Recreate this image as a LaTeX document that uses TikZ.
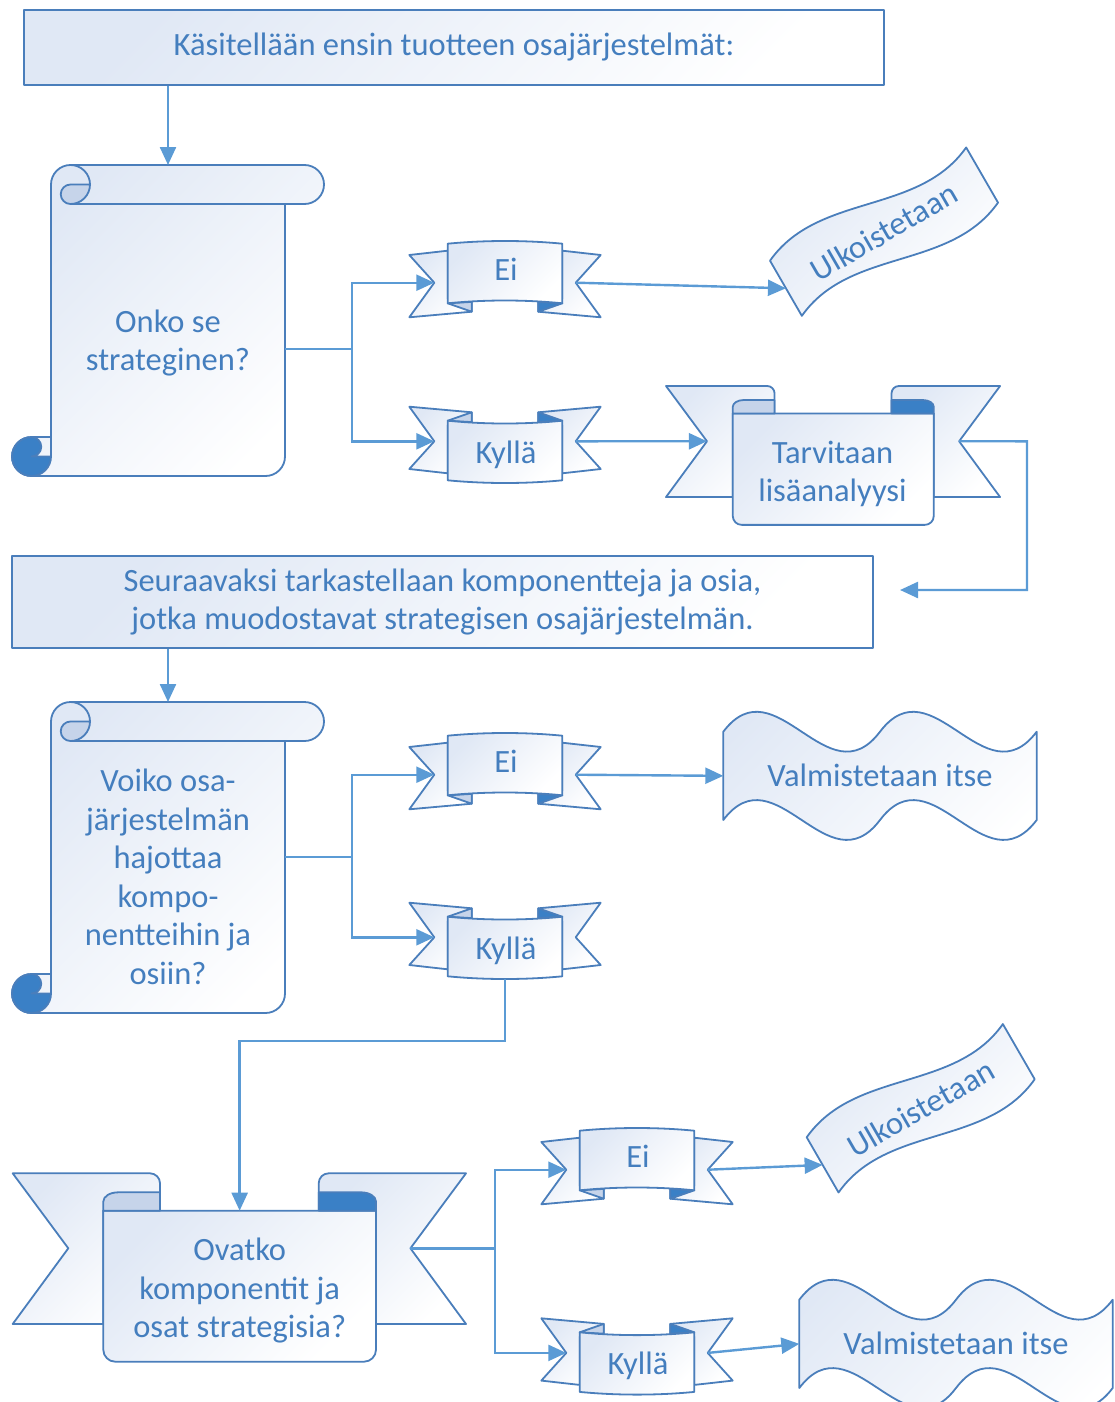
\documentclass[tikz,border=0pt]{standalone}
\usepackage{fontspec}
\setmainfont{Carlito}
\usetikzlibrary{arrows.meta}

\definecolor{lineC}{RGB}{74,126,187}
\definecolor{connC}{RGB}{91,155,213}
\definecolor{textC}{RGB}{68,126,190}
\definecolor{fillA}{RGB}{224,232,245}
\definecolor{curlL}{RGB}{198,212,234}
\definecolor{curlD}{RGB}{58,128,198}

\tikzset{
  outl/.style={draw=lineC, line width=1.8pt, line join=round},
  grad/.style={top color=fillA, bottom color=white, shading angle=45},
  shp/.style={outl, grad},
  lightcurl/.style={outl, fill=curlL},
  darkcurl/.style={outl, fill=curlD},
  lbl/.style={text=textC, font=\fontsize{32.5}{38.5}\selectfont, align=center, inner sep=0pt},
  box/.style={shp, lbl, inner sep=0pt},
  conn/.style={draw=connC, line width=2.4pt},
  arr/.style={conn, -{Triangle[length=18pt,width=16pt]}},
}

% vertical scroll, 312 x 311, given by its top-left corner
\newcommand\vscrollshape[2]{%
\begin{scope}[shift={(#1,#2)}]
  \path[shp] (39,272) -- (39,19.5) arc[start angle=180,end angle=270,radius=19.5]
    -- (292.5,0) arc[start angle=270,end angle=450,radius=19.5]
    -- (273,39) -- (273,291.5) arc[start angle=0,end angle=90,radius=19.5]
    -- (19.5,311) arc[start angle=90,end angle=270,radius=19.5] -- cycle;
  \path[lightcurl] (78,19.5) arc[start angle=0,end angle=90,radius=19.5]
    arc[start angle=90,end angle=270,radius=9.75] -- cycle;
  \draw[outl] (58.5,0) arc[start angle=270,end angle=360,radius=19.5];
  \draw[outl] (273,39) -- (58.5,39);
  \path[fill=curlD] (39,291.5) arc[start angle=0,end angle=270,radius=19.5]
    arc[start angle=270,end angle=450,radius=9.75] -- cycle;
  \draw[outl] (19.5,272) arc[start angle=270,end angle=450,radius=9.75] -- (39,291.5);
  \draw[outl] (19.5,311) arc[start angle=90,end angle=0,radius=19.5] -- (39,272);
  \draw[outl] (19.5,311) arc[start angle=90,end angle=270,radius=19.5];
\end{scope}}

% small curved ribbon: centre x, centre y, orientation (1 = ears low, -1 = ears high), name, text
\newcommand\smallrib[5]{%
\begin{scope}[shift={(#1,#2)}]
  \def\rbs{#3}
  \path[shp] (-57.3,{\rbs*-28.3}) -- (-95.7,{\rbs*-24}) -- (-70.7,{\rbs*3.7})
    -- (-95.7,{\rbs*38.3}) -- (-33.3,{\rbs*32.7}) -- (-33.3,{\rbs*20}) -- (-57.3,{\rbs*20}) -- cycle;
  \path[shp] (57.3,{\rbs*-28.3}) -- (95.7,{\rbs*-24}) -- (70.7,{\rbs*3.7})
    -- (95.7,{\rbs*38.3}) -- (33.3,{\rbs*32.7}) -- (33.3,{\rbs*20}) -- (57.3,{\rbs*20}) -- cycle;
  \path[lightcurl] (-57.3,{\rbs*24.3}) -- (-33.3,{\rbs*32.7}) -- (-33.3,{\rbs*22.9}) -- cycle;
  \path[darkcurl] (57.3,{\rbs*24.3}) -- (33.3,{\rbs*32.7}) -- (33.3,{\rbs*22.9}) -- cycle;
  \path[shp] (-57.3,{\rbs*-35.3}) .. controls (-20,{\rbs*-38.9}) and (20,{\rbs*-38.9}) .. (57.3,{\rbs*-35.3})
    -- (57.3,{\rbs*24.3}) .. controls (20,{\rbs*20.57}) and (-20,{\rbs*20.57}) .. (-57.3,{\rbs*24.3}) -- cycle;
  \coordinate (#4-l) at (-70.7,{\rbs*3.7});
  \coordinate (#4-r) at (70.7,{\rbs*3.7});
  \coordinate (#4-e) at (0,{\rbs*-38});
  \node[lbl, anchor=base] (#4) at (1,{10-8.3*\rbs}) {#5};
\end{scope}}

% large ribbon with rolled ends: top-left x, top-left y, scale, name
\newcommand\bigrib[4]{%
\begin{scope}[shift={(#1,#2)}, scale=#3]
  \path[shp] (90.6,150.7) -- (0,150.7) -- (55.6,75) -- (0,0) -- (137.3,0)
    arc[start angle=-90,end angle=0,radius=10] -- (147.3,37.4) -- (90.6,37.4) -- cycle;
  \path[shp] (363.3,150.7) -- (453.3,150.7) -- (397.7,75) -- (453.3,0) -- (316,0)
    arc[start angle=270,end angle=180,radius=10] -- (306,37.4) -- (363.3,37.4) -- cycle;
  \path[shp] (147.3,37.4) -- (90.6,37.4) -- (90.6,176.4)
    arc[start angle=180,end angle=90,radius=12] -- (351.3,188.4)
    arc[start angle=90,end angle=0,radius=12] -- (363.3,37.4) -- cycle;
  \path[lightcurl] (90.6,37.4) -- (90.6,28.2)
    arc[start angle=180,end angle=270,x radius=15,y radius=9.2] -- (147.3,19) -- (147.3,37.4) -- cycle;
  \path[darkcurl] (363.3,37.4) -- (363.3,28.2)
    arc[start angle=0,end angle=-90,x radius=15,y radius=9.2] -- (306,19) -- (306,37.4) -- cycle;
  \coordinate (#4-l) at (55.6,75);
  \coordinate (#4-r) at (397.7,75);
  \coordinate (#4-n) at (226.95,37.4);
\end{scope}}

% tilted single wave: top-left corner x, y, name
\newcommand\ulkwave[3]{%
\begin{scope}[shift={(#1,#2)}, rotate=30]
  \path[shp] (0,0) .. controls (75.5,-35) and (151,35) .. (226.5,0) -- (226.5,63.7)
    .. controls (151,98.7) and (75.5,28.7) .. (0,63.7) -- cycle;
  \coordinate (#3-l) at (0,31.85);
  \node[lbl, rotate=30] (#3) at (113.25,31.85) {Ulkoistetaan};
\end{scope}}

% double wave: top-left corner x, y, name
\newcommand\valwave[3]{%
\begin{scope}[shift={(#1,#2)}]
  \path[shp] (0,0) .. controls (52.2,-69) and (104.5,69) .. (156.7,0)
    .. controls (208.9,-69) and (261.2,69) .. (313.4,0) -- (313.4,88.3)
    .. controls (261.2,157.3) and (208.9,19.3) .. (156.7,88.3)
    .. controls (104.5,157.3) and (52.2,19.3) .. (0,88.3) -- cycle;
  \coordinate (#3-l) at (0,44.15);
  \node[lbl, anchor=base] (#3) at (156.7,55) {Valmistetaan itse};
\end{scope}}

\begin{document}
\begin{tikzpicture}[x=1pt, y=-1pt]
  \useasboundingbox (0,0) rectangle (1114,1402);

  % headings
  \node[box, minimum width=860, minimum height=75] (b1) at (454,47.5)
    {Käsitellään ensin tuotteen osajärjestelmät:};
  \node[box, minimum width=861, minimum height=92] (b2) at (442.5,602)
    {Seuraavaksi tarkastellaan komponentteja ja osia,\\jotka muodostavat strategisen osajärjestelmän.};

  % first question
  \vscrollshape{12}{165}
  \node[lbl] (q1) at (168,343) {Onko se\\strateginen?};
  \coordinate (q1n) at (168,165);
  \coordinate (q1e) at (285,349);
  \smallrib{505}{279}{1}{ei1}{Ei}
  \smallrib{505}{445}{-1}{ky1}{Kyllä}
  \ulkwave{770}{260.7}{ulk1}
  \bigrib{666}{386}{0.737}{tv}
  \node[lbl] (tvt) at (832.5,473.7) {Tarvitaan\\lisäanalyysi};

  % second question
  \vscrollshape{12}{702}
  \node[lbl] (q2) at (168,877) {Voiko osa-\\järjestelmän\\hajottaa\\kompo-\\nentteihin ja\\osiin?};
  \coordinate (q2n) at (168,702);
  \coordinate (q2e) at (285,857);
  \smallrib{505}{771}{1}{ei2}{Ei}
  \smallrib{505}{941}{-1}{ky2}{Kyllä}
  \valwave{723.3}{731.7}{val1}

  % third question
  \bigrib{12.7}{1173.3}{1}{ov}
  \node[lbl] (ovt) at (239.7,1290.8) {Ovatko\\komponentit ja\\osat strategisia?};
  \smallrib{637}{1166}{1}{ei3}{Ei}
  \smallrib{637}{1356.6}{-1}{ky3}{Kyllä}
  \ulkwave{806.7}{1137.3}{ulk2}
  \valwave{799.3}{1299.7}{val2}

  % connector bends
  \coordinate (j1) at (352,349);
  \coordinate (j2) at (352,857);
  \coordinate (j3) at (495,1248.3);
  \coordinate (k1) at (1027,441.3);
  \coordinate (fb) at (900,590);
  \coordinate (k2) at (505,1041);

  % connectors
  \draw[arr] (b1.south -| q1n) -- (q1n);
  \draw[conn] (q1e) -- (j1);
  \draw[arr] (j1) |- (ei1-l);
  \draw[arr] (j1) |- (ky1-l);
  \draw[arr] (ei1-r) -- (ulk1-l);
  \draw[arr] (ky1-r) -- (tv-l);
  \draw[arr] (tv-r) -- (k1) |- (fb);

  \draw[arr] (b2.south -| q2n) -- (q2n);
  \draw[conn] (q2e) -- (j2);
  \draw[arr] (j2) |- (ei2-l);
  \draw[arr] (j2) |- (ky2-l);
  \draw[arr] (ei2-r) -- (val1-l);
  \draw[arr] (ky2-e) -- (k2) -| (ov-n);

  \draw[conn] (ov-r) -- (j3);
  \draw[arr] (j3) |- (ei3-l);
  \draw[arr] (j3) |- (ky3-l);
  \draw[arr] (ei3-r) -- (ulk2-l);
  \draw[arr] (ky3-r) -- (val2-l);
\end{tikzpicture}
\end{document}
